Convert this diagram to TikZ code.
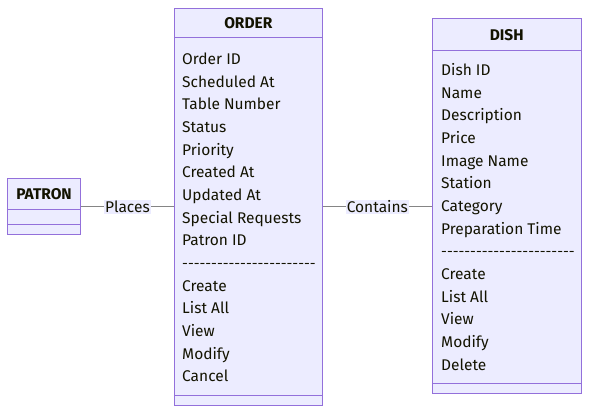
\documentclass[tikz,border=0pt]{standalone}
\usepackage{fontspec}
\setmainfont{Fira Sans}[Ligatures=TeXOff]
\definecolor{boxfill}{HTML}{ECECFF}
\definecolor{boxline}{HTML}{9370DB}
\definecolor{ink}{HTML}{131300}
\definecolor{edgegray}{HTML}{858585}
\newcommand{\sepline}{{\fontsize{14.4}{17}\selectfont -----------------------}}
\tikzset{
  classbox/.style={draw=boxline, fill=boxfill, line width=1pt, inner sep=0pt},
  member/.style={anchor=base west, inner sep=0pt, text=ink, font=\fontsize{15.5}{18}\selectfont},
  classname/.style={anchor=base, inner sep=0pt, text=ink, font=\fontsize{15.5}{18}\selectfont\bfseries},
  rel/.style={draw=edgegray, line width=1pt},
  rellabel/.style={fill=boxfill, text=ink, inner sep=1pt, font=\fontsize{15.5}{18}\selectfont}
}
\begin{document}
\begin{tikzpicture}[x=1pt, y=-1pt]
    \useasboundingbox (0,0) rectangle (597,419);
    % Class boxes
    \node[classbox, minimum width=73.4pt, minimum height=55.7pt] (patron) at (44, 206.2) {};
    \node[classbox, minimum width=148pt, minimum height=397.4pt] (order) at (248.3, 207) {};
    \node[classbox, minimum width=148.7pt, minimum height=375pt] (dish) at (506.7, 206.5) {};
    % Compartment lines
    \draw[boxline] (patron.west |- 0,209) -- (patron.east |- 0,209);
    \draw[boxline] (patron.west |- 0,224) -- (patron.east |- 0,224);
    \draw[boxline] (order.west |- 0,37.7) -- (order.east |- 0,37.7);
    \draw[boxline] (order.west |- 0,395) -- (order.east |- 0,395);
    \draw[boxline] (dish.west |- 0,50) -- (dish.east |- 0,50);
    \draw[boxline] (dish.west |- 0,383.3) -- (dish.east |- 0,383.3);
    % Class names
    \node[classname] (patronname) at (patron.north |- 0,200) {PATRON};
    \node[classname] (ordername) at (order.north |- 0,28.5) {ORDER};
    \node[classname] (dishname) at (dish.north |- 0,40.5) {DISH};
    % Members of ORDER
    \foreach \t [count=\i] in {Order ID, Scheduled At, Table Number, Status, Priority, Created At, Updated At, Special Requests, Patron ID, \sepline, Create, List All, View, Modify, Cancel}
        \node[member] (order\i) at (182, 64.5+22.67*\i-22.67) {\t};
    % Members of DISH
    \foreach \t [count=\i] in {Dish ID, Name, Description, Price, Image Name, Station, Category, Preparation Time, \sepline, Create, List All, View, Modify, Delete}
        \node[member] (dish\i) at (441, 75.5+22.67*\i-22.67) {\t};
    % Relations
    \draw[rel] (patron.east |- 0,207) -- node[rellabel] {Places} (order.west |- 0,207);
    \draw[rel] (order.east |- 0,207) -- node[rellabel] {Contains} (dish.west |- 0,207);
\end{tikzpicture}
\end{document}
